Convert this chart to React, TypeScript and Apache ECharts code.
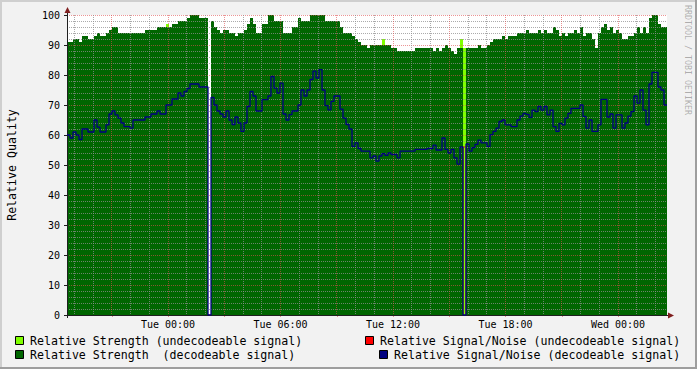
import React, { useEffect, useRef } from "react";
import * as echarts from "echarts";

// Time axis: hours since Mon 00:00. 200 samples of 9.6 minutes each.
const START_HOUR = 18.6133; // Mon 18:36:48
const SAMPLE_HOURS = 0.16;
const SAMPLE_COUNT = 200;
const END_HOUR = START_HOUR + SAMPLE_HOURS * SAMPLE_COUNT;

const labelHours = [24, 30, 36, 42, 48];
const labelTexts = ["Tue 00:00", "Tue 06:00", "Tue 12:00", "Tue 18:00", "Wed 00:00"];

// Relative Strength (decodeable signal)
const strengthDecodeable = [
  91, 91, 92, 92, 91, 93, 93, 92, 92, 93,
  94, 93, 93, 94, 95, 96, 96, 94, 94, 94,
  94, 94, 94, 94, 94, 94, 95, 95, 95, 95,
  96, 96, 96, 96, 96, 97, 97, 98, 98, 98,
  99, 100, 100, 100, 99, 99, 99, 0, 98, 96,
  95, 94, 95, 95, 94, 94, 93, 94, 94, 95,
  97, 99, 97, 94, 94, 97, 97, 100, 100, 98,
  98, 98, 94, 94, 94, 96, 96, 99, 98, 98,
  98, 100, 100, 100, 100, 100, 98, 98, 98, 98,
  98, 96, 94, 94, 94, 93, 92, 91, 90, 90,
  89, 90, 90, 90, 90, 90, 90, 90, 89, 89,
  88, 88, 88, 88, 88, 88, 89, 89, 89, 89,
  89, 89, 88, 89, 88, 89, 90, 89, 88, 87,
  89, 89, 0, 89, 89, 89, 89, 90, 89, 89,
  90, 91, 92, 92, 92, 93, 92, 93, 93, 93,
  94, 94, 94, 95, 94, 94, 94, 95, 94, 95,
  94, 94, 96, 95, 93, 94, 93, 94, 94, 95,
  94, 96, 93, 94, 94, 92, 89, 94, 96, 97,
  95, 96, 94, 95, 94, 92, 92, 93, 93, 94,
  96, 94, 96, 94, 99, 100, 100, 97, 96, 96,
];

// Relative Signal/Noise (decodeable signal)
const snDecodeable = [
  60, 59, 61, 60, 58.5, 62, 62, 61, 61, 65,
  62.6, 61, 61, 63.4, 67, 68, 66.7, 65.6, 64, 62.8,
  62.8, 62.3, 65, 65, 65, 65, 66, 66, 67, 67,
  68, 67, 67, 70, 70, 72, 72, 74, 73, 74.5,
  75.5, 77, 77, 77, 76, 76, 76, 0, 72.5, 70,
  68, 67, 66, 68, 65, 63.5, 66, 64, 61.2, 64,
  69.5, 74.5, 73, 68, 68, 71.8, 71.8, 73, 79.5, 75.6,
  74, 77.3, 67, 65, 66.8, 68, 68, 70, 75, 73,
  75, 78.5, 81.3, 79, 81.8, 75, 69.8, 68.4, 71.2, 73,
  73, 68.6, 65.6, 63.5, 62, 56.2, 57.4, 55.5, 54.6, 54.6,
  54.6, 52.4, 53, 51.3, 53, 53.8, 53.2, 54, 53.5, 53.5,
  52.4, 54.6, 54.6, 54.6, 54.6, 54.6, 55.2, 55.2, 55.2, 55.2,
  55.5, 55.5, 56.6, 55, 55, 59, 55.2, 54, 55.2, 52.4,
  50.3, 56, 0, 57, 54.6, 55.8, 56.9, 58.3, 57.4, 57.4,
  56.2, 60.1, 61.2, 62.3, 64.5, 65, 63.4, 63.4, 62.8, 62.8,
  65, 66.3, 67.2, 66.9, 65.9, 68.3, 67.8, 69.5, 68.3, 69.5,
  66.7, 68.3, 62.8, 61.2, 63.9, 63.4, 65.6, 67.2, 68.9, 68.9,
  68.9, 70, 66.2, 62.3, 65, 61.2, 61.2, 63.4, 71.9, 71.9,
  66, 67, 62.3, 66.7, 66.7, 62.3, 64, 66.3, 67.8, 73,
  70.6, 75, 68.3, 63.4, 77, 80.9, 80.9, 76, 75, 70,
];

// Undecodeable samples: [sample index, value]; zero elsewhere
const strengthUndecodeable: [number, number][] = [[33, 97], [105, 92], [131, 92], [132, 89]];
const snUndecodeable: [number, number][] = [[132, 56]];

const COLORS = {
  back: "#F2F2F2",
  shadeA: "#CFCFCF",
  shadeB: "#9E9E9E",
  grid: "rgba(143,143,143,0.75)",
  mgrid: "rgba(222,79,79,0.6)",
  arrow: "#801F1F",
  axis: "#1F1F1F",
  lime: "#80FF00",
  red: "#FF0000",
  green: "#006600",
  blue: "#000080",
};

const MONO = "DejaVu Sans Mono";

function toPoints(vals: number[]) {
  const pts = vals.map((v, i) => [START_HOUR + i * SAMPLE_HOURS, v]);
  pts.push([END_HOUR, vals[vals.length - 1]]);
  return pts;
}

function fromEvents(events: [number, number][]) {
  const arr: number[] = new Array(SAMPLE_COUNT).fill(0);
  events.forEach(([i, v]) => {
    arr[i] = v;
  });
  return arr;
}

export default function App() {
  const ref = useRef<HTMLDivElement>(null);

  useEffect(() => {
    document.body.style.margin = "0";
    const chart = echarts.init(ref.current!, null, { renderer: "svg" });

    const GRID_LEFT = 67;
    const GRID_TOP = 15;
    const GRID_W = 600;
    const GRID_H = 300;
    const AX_Y = GRID_TOP + GRID_H;

    const majorHours: number[] = [];
    const allHours: number[] = [];
    for (let h = Math.ceil(START_HOUR); h <= END_HOUR; h++) {
      allHours.push(h);
      if (h % 3 === 0) majorHours.push(h);
    }

    const legendItems = [
      { x: 15.5, y: 336.5, color: COLORS.lime, tx: 30, ty: 341, text: "Relative Strength (undecodeable signal)" },
      { x: 365.5, y: 336.5, color: COLORS.red, tx: 380, ty: 341, text: "Relative Signal/Noise (undecodeable signal)" },
      { x: 15.5, y: 350.5, color: COLORS.green, tx: 30, ty: 355, text: "Relative Strength  (decodeable signal)" },
      { x: 379.5, y: 350.5, color: COLORS.blue, tx: 394, ty: 355, text: "Relative Signal/Noise (decodeable signal)" },
    ];

    const graphics: any[] = [
      { type: "rect", shape: { x: 0, y: 0, width: 697, height: 2 }, style: { fill: COLORS.shadeA }, z: 10 },
      { type: "rect", shape: { x: 0, y: 0, width: 2, height: 369 }, style: { fill: COLORS.shadeA }, z: 10 },
      { type: "rect", shape: { x: 0, y: 367, width: 697, height: 2 }, style: { fill: COLORS.shadeB }, z: 10 },
      { type: "rect", shape: { x: 695, y: 0, width: 2, height: 369 }, style: { fill: COLORS.shadeB }, z: 10 },
      { type: "line", shape: { x1: GRID_LEFT + 0.5, y1: AX_Y + 3, x2: GRID_LEFT + 0.5, y2: 10 }, style: { stroke: COLORS.axis, lineWidth: 1 }, z: 6 },
      { type: "line", shape: { x1: GRID_LEFT - 3, y1: AX_Y + 0.5, x2: 670, y2: AX_Y + 0.5 }, style: { stroke: COLORS.axis, lineWidth: 1 }, z: 6 },
      { type: "polygon", shape: { points: [[GRID_LEFT - 2.5, 13], [GRID_LEFT + 3.5, 13], [GRID_LEFT + 0.5, 7]] }, style: { fill: COLORS.arrow }, z: 6 },
      { type: "polygon", shape: { points: [[668, AX_Y - 2.5], [668, AX_Y + 3.5], [674, AX_Y + 0.5]] }, style: { fill: COLORS.arrow }, z: 6 },
      {
        type: "text",
        x: 12,
        y: 165,
        rotation: Math.PI / 2,
        style: { text: "Relative Quality", font: `11.6px ${MONO}`, fill: "#000", align: "center", verticalAlign: "middle" },
        z: 10,
      },
      {
        type: "text",
        x: 688,
        y: 60,
        rotation: -Math.PI / 2,
        style: { text: "RRDTOOL / TOBI OETIKER", font: `8.3px ${MONO}`, fill: "rgba(0,0,0,0.3)", align: "center", verticalAlign: "middle" },
        z: 10,
      },
    ];
    legendItems.forEach((it) => {
      graphics.push({
        type: "rect",
        shape: { x: it.x, y: it.y, width: 8, height: 8 },
        style: { fill: it.color, stroke: "#000", lineWidth: 1 },
        z: 10,
      });
      graphics.push({
        type: "text",
        x: it.tx,
        y: it.ty,
        style: { text: it.text, font: `11.6px ${MONO}`, fill: "#000", align: "left", verticalAlign: "middle" },
        z: 10,
      });
    });

    const option: any = {
      animation: false,
      backgroundColor: COLORS.back,
      grid: {
        left: GRID_LEFT,
        top: GRID_TOP,
        width: GRID_W,
        height: GRID_H,
        show: true,
        backgroundColor: "#FFFFFF",
        borderWidth: 0,
      },
      xAxis: {
        type: "value",
        min: START_HOUR,
        max: END_HOUR,
        z: 4,
        axisLine: { show: false },
        splitLine: { show: false },
        axisTick: { show: true, customValues: majorHours, length: 2, lineStyle: { color: COLORS.mgrid } },
        axisLabel: {
          customValues: labelHours,
          margin: 4,
          color: "#000",
          fontFamily: MONO,
          fontSize: 10,
          formatter: (v: number) => {
            const idx = labelHours.findIndex((h) => Math.abs(h - v) < 1e-6);
            return idx >= 0 ? labelTexts[idx] : "";
          },
        },
      },
      yAxis: {
        type: "value",
        min: 0,
        max: 100,
        interval: 10,
        z: 4,
        axisLine: { show: false },
        axisTick: { show: true, length: 3, lineStyle: { color: COLORS.axis } },
        axisLabel: { margin: 7, color: "#000", fontFamily: MONO, fontSize: 10 },
        splitLine: { show: true, lineStyle: { color: COLORS.mgrid, type: [1, 1], width: 1 } },
        minorTick: { show: false, splitNumber: 5 },
        minorSplitLine: { show: true, lineStyle: { color: COLORS.grid, type: [1, 1], width: 1 } },
      },
      series: [
        {
          name: "Relative Strength (undecodeable signal)",
          type: "line",
          step: "end",
          data: toPoints(fromEvents(strengthUndecodeable)),
          showSymbol: false,
          silent: true,
          z: 1,
          lineStyle: { width: 0, opacity: 0 },
          areaStyle: { color: COLORS.lime, opacity: 1 },
        },
        {
          name: "Relative Signal/Noise (undecodeable signal)",
          type: "line",
          step: "end",
          data: toPoints(fromEvents(snUndecodeable)),
          showSymbol: false,
          silent: true,
          z: 2,
          lineStyle: { width: 1, color: COLORS.red },
        },
        {
          name: "Relative Strength (decodeable signal)",
          type: "line",
          step: "end",
          data: toPoints(strengthDecodeable),
          showSymbol: false,
          silent: true,
          z: 3,
          lineStyle: { width: 0, opacity: 0 },
          areaStyle: { color: COLORS.green, opacity: 1 },
        },
        {
          name: "Relative Signal/Noise (decodeable signal)",
          type: "line",
          step: "end",
          data: toPoints(snDecodeable),
          showSymbol: false,
          silent: true,
          z: 7,
          lineStyle: { width: 1.3, color: COLORS.blue },
        },
      ],
      graphic: graphics,
    };

    chart.setOption(option);

    // vertical hourly grid, positioned through the x axis scale
    const gridLines: any[] = [];
    allHours.forEach((h) => {
      const px = chart.convertToPixel({ xAxisIndex: 0 }, h) as number;
      const x = Math.round(px - 0.5) + 0.5;
      const major = h % 3 === 0;
      gridLines.push({
        type: "line",
        silent: true,
        shape: { x1: x, y1: GRID_TOP, x2: x, y2: AX_Y },
        style: { stroke: major ? COLORS.mgrid : COLORS.grid, lineWidth: 1, lineDash: [1, 1] },
        z: 5,
      });
    });
    chart.setOption({ graphic: [...graphics, ...gridLines] });

    return () => chart.dispose();
  }, []);

  return <div ref={ref} style={{ width: 697, height: 369 }} />;
}
